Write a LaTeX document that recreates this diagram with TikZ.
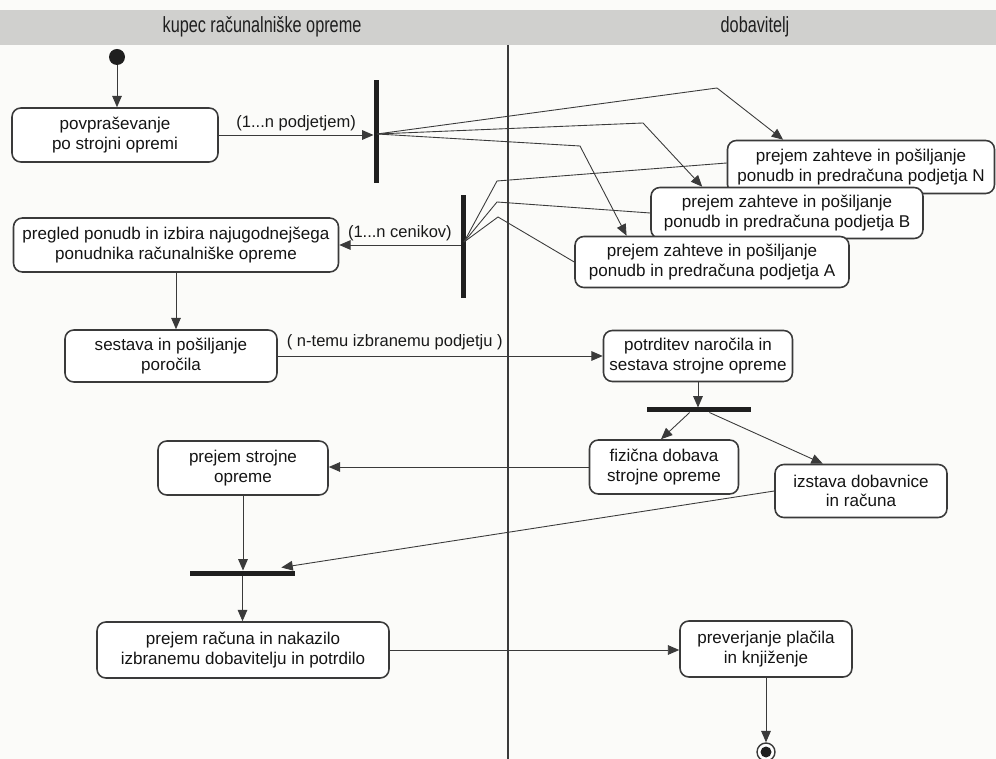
\documentclass[tikz,border=0pt]{standalone}
\usepackage{fontspec}
\usepackage{graphicx}
\setmainfont{Liberation Sans}
\usetikzlibrary{calc,arrows.meta}
\definecolor{ink}{HTML}{3A3A3A}
\definecolor{paper}{HTML}{FBFBF9}
\definecolor{band}{HTML}{D0D0CE}
\begin{document}
\begin{tikzpicture}[x=0.02cm,y=-0.02cm,
  activity/.style={draw=ink, line width=0.9pt, rounded corners=5pt, fill=white,
    inner sep=0pt, align=center, font=\fontsize{9.7}{11}\selectfont, text=black!92},
  flow/.style={draw=ink, line width=0.5pt, -{Triangle[length=6.5pt,width=5.5pt]}},
  link/.style={draw=ink, line width=0.5pt},
  syncbar/.style={fill=black!88, draw=none, inner sep=0pt, outer sep=0pt},
  lbl/.style={font=\fontsize{9.4}{11}\selectfont, text=black!90, inner sep=1pt},
  lanehead/.style={font=\fontsize{12.5}{14}\selectfont, text=black!88}
]
% page and swimlane frame
\useasboundingbox (0,0) rectangle (996,759);
\fill[paper] (0,0) rectangle (996,759);
\fill[band] (0,10) rectangle (996,45);
\node[lanehead] (laneA) at (262,27) {\scalebox{0.74}[1]{kupec računalniške opreme}};
\node[lanehead] (laneB) at (755,27) {\scalebox{0.74}[1]{dobavitelj}};
\draw[ink, line width=0.6pt] (508,45) -- (508,759);

% start and end
\node[circle, fill=black!88, minimum size=0.32cm, inner sep=0pt] (start) at (117,57) {};
\node[circle, draw=ink, line width=0.8pt, fill=white, minimum size=0.36cm, inner sep=0pt,
  path picture={\fill[black!88] (path picture bounding box.center) circle (0.11cm);}] (end) at (766,752) {};

% buyer activities
\node[activity, minimum width=4.12cm, minimum height=1.08cm] (n1) at (115,135) {povpraševanje\\po strojni opremi};
\node[activity, minimum width=6.5cm, minimum height=1.08cm] (n2) at (176,245) {pregled ponudb in izbira najugodnejšega\\ponudnika računalniške opreme};
\node[activity, minimum width=4.24cm, minimum height=1.04cm] (n3) at (171,356) {sestava in pošiljanje\\poročila};
\node[activity, minimum width=3.4cm, minimum height=1.08cm] (n7) at (243,468) {prejem strojne\\opreme};
\node[activity, minimum width=5.84cm, minimum height=1.12cm] (n8) at (243,650) {prejem računa in nakazilo\\izbranemu dobavitelju in potrdilo};

% supplier activities
\node[activity, minimum width=5.34cm, minimum height=1.06cm] (nN) at (861,167) {prejem zahteve in pošiljanje\\ponudb in predračuna podjetja N};
\node[activity, minimum width=5.44cm, minimum height=1.02cm] (nB) at (787,213) {prejem zahteve in pošiljanje\\ponudb in predračuna podjetja B};
\node[activity, minimum width=5.48cm, minimum height=1.02cm] (nA) at (712,262) {prejem zahteve in pošiljanje\\ponudb in predračuna podjetja A};
\node[activity, minimum width=3.78cm, minimum height=1.02cm] (n4) at (698,356) {potrditev naročila in\\sestava strojne opreme};
\node[activity, minimum width=2.98cm, minimum height=1.08cm] (n5) at (664,467) {fizična dobava\\strojne opreme};
\node[activity, minimum width=3.44cm, minimum height=1.06cm] (n6) at (861,491) {izstava dobavnice\\in računa};
\node[activity, minimum width=3.44cm, minimum height=1.12cm] (n9) at (766,649) {preverjanje plačila\\in knjiženje};

% fork / join bars
\node[syncbar, minimum width=0.1cm, minimum height=2.06cm] (bar1) at (376,131.5) {};
\node[syncbar, minimum width=0.1cm, minimum height=2.06cm] (bar2) at (463,246.5) {};
\node[syncbar, minimum width=2.08cm, minimum height=0.1cm] (bar3) at (699,410) {};
\node[syncbar, minimum width=2.1cm, minimum height=0.1cm] (bar4) at (242.5,573) {};

% fork and join points on the vertical bars
\coordinate (f1) at (377,134);
\coordinate (j2) at (464,242);

% control flow
\draw[flow] (start) -- (start |- n1.north);
\draw[flow] (n1.east) -- (n1.east -| bar1.west) node[lbl, midway, above=1pt] {(1...n podjetjem)};

\draw[flow] (f1) -- (717,88) -- ($(nN.north west)!0.21!(nN.north east)$);
\draw[flow] (f1) -- (643,123) -- ($(nB.north west)!0.19!(nB.north east)$);
\draw[flow] (f1) -- (580,146) -- ($(nA.north west)!0.19!(nA.north east)$);

\draw[link] ($(nN.west)+(0,-4)$) -- (497,181) -- (j2);
\draw[link] (nB.west) -- (497,202) -- (j2);
\draw[link] (nA.west) -- (498,217) -- (j2);

\draw[flow] (n2.east -| bar2.west) -- (n2.east) node[lbl, midway, above=1pt] {(1...n cenikov)};
\draw[flow] (n2.south) -- (n2.south |- n3.north);
\draw[flow] (n3.east) -- (n3.east -| n4.west) node[lbl, pos=0.36, above=2pt] {( n-temu izbranemu podjetju )};
\draw[flow] (n4.south) -- (n4.south |- bar3.north);
\draw[flow] ($(bar3.south west)!0.41!(bar3.south east)$) -- ($(n5.north west)!0.48!(n5.north east)$);
\draw[flow] ($(bar3.south west)!0.6!(bar3.south east)$) -- ($(n6.north west)!0.28!(n6.north east)$);
\draw[flow] (n5.west) -- (n5.west -| n7.east);
\draw[flow] (n7.south) -- (n7.south |- bar4.north);
\draw[flow] (n6.west) -- ($(bar4.north west)!0.87!(bar4.north east)+(0,-3)$);
\draw[flow] (bar4.south) -- (bar4.south |- n8.north);
\draw[flow] (n8.east) -- (n8.east -| n9.west);
\draw[flow] (n9.south) -- (end.north);
\end{tikzpicture}
\end{document}
